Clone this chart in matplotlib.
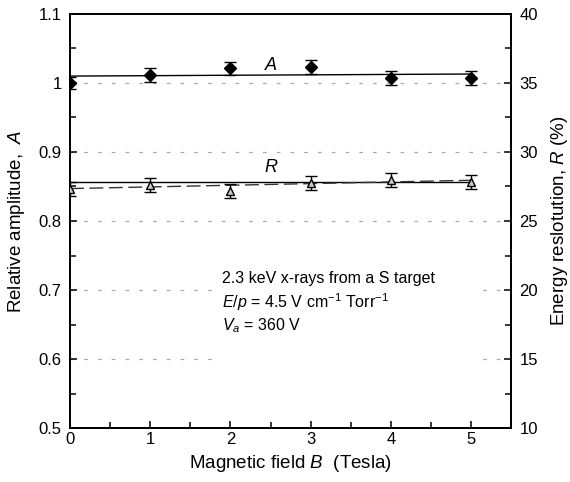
import matplotlib
matplotlib.use('Agg')
import matplotlib.pyplot as plt
from matplotlib.ticker import MultipleLocator
from matplotlib.patches import Rectangle

plt.rcParams['font.family'] = ['Liberation Sans', 'DejaVu Sans']
plt.rcParams['mathtext.fontset'] = 'custom'
plt.rcParams['mathtext.it'] = 'Liberation Sans:italic'
plt.rcParams['mathtext.rm'] = 'Liberation Sans'

# Magnetic field (Tesla)
field = [0, 1, 2, 3, 4, 5]

# Relative amplitude A with error
amp = [1.000, 1.012, 1.021, 1.023, 1.007, 1.007]
amp_err = [0.008, 0.01, 0.01, 0.01, 0.01, 0.01]

# Energy resolution R (%) with error
res = [27.3, 27.6, 27.2, 27.75, 27.95, 27.8]
res_err = [0.5, 0.5, 0.5, 0.5, 0.5, 0.5]

# fit lines (end points)
fit_x = [0, 5]
amp_fit = [1.010, 1.013]
res_fit = [27.8, 27.8]
res_fit2 = [27.35, 27.95]

grid_levels = [0.6, 0.7, 0.8, 0.9, 1.0]

fig = plt.figure(figsize=(5.7, 4.82), dpi=100)
ax = fig.add_axes([0.1228, 0.112, 0.774, 0.859])
ax2 = ax.twinx()

for g in grid_levels:
    ax.axhline(g, color='#aaaaaa', linestyle=(0, (3, 8)), linewidth=0.9, zorder=0)

# white area behind the note (hides the grid there)
ax.add_patch(Rectangle((1.8, 0.565), 3.34, 0.19, facecolor='white',
                       edgecolor='none', zorder=1))

ax.errorbar(field, amp, yerr=amp_err, fmt='D', color='black', markersize=6,
            capsize=4, elinewidth=1, capthick=1, zorder=4)
ax.plot(fit_x, amp_fit, color='black', linewidth=1, zorder=3)

ax2.errorbar(field, res, yerr=res_err, fmt='^', color='black', mfc='#c8c8c8',
             mec='black', markersize=6, capsize=4, elinewidth=1, capthick=1, zorder=4)
ax2.plot(fit_x, res_fit, color='black', linewidth=1, zorder=3)
ax2.plot(fit_x, res_fit2, color='#333333', linewidth=1, linestyle=(0, (10, 4)), zorder=3)

ax.set_xlim(0, 5.5)
ax.set_ylim(0.5, 1.1)
ax2.set_ylim(10, 40)

ax.xaxis.set_major_locator(MultipleLocator(1))
ax.xaxis.set_minor_locator(MultipleLocator(0.5))
ax.yaxis.set_minor_locator(MultipleLocator(0.05))
ax2.yaxis.set_major_locator(MultipleLocator(5))
ax2.yaxis.set_minor_locator(MultipleLocator(2.5))

ax.set_yticks([0.5, 0.6, 0.7, 0.8, 0.9, 1.0, 1.1])
ax.set_yticklabels(['0.5', '0.6', '0.7', '0.8', '0.9', '1', '1.1'])

for a in (ax, ax2):
    a.tick_params(which='both', direction='in', labelsize=12, width=1.1)
    a.tick_params(which='major', length=5, pad=6)
    a.tick_params(which='minor', length=4)
    for s in a.spines.values():
        s.set_linewidth(1.3)
ax.tick_params(axis='x', which='both', top=False, pad=3)

ax.set_xlabel('Magnetic field $B$  (Tesla)', fontsize=13.5, labelpad=4)
ax.set_ylabel('Relative amplitude,  $A$', fontsize=13.5, labelpad=8)
ax2.set_ylabel('Energy reslotution, $R$ (%)', fontsize=13.5, labelpad=8)

ax.text(2.5, 1.026, 'A', style='italic', fontsize=13, ha='center', va='center')
ax.text(2.5, 0.878, 'R', style='italic', fontsize=13, ha='center', va='center')

ax.text(1.9, 0.681,
        '2.3 keV x-rays from a S target\n'
        '$E/p$ = 4.5 V cm$^{-1}$ Torr$^{-1}$\n'
        '$V_a$ = 360 V',
        fontsize=11.5, ha='left', va='center', linespacing=1.3, zorder=5)

fig.savefig('out.png', dpi=100)
